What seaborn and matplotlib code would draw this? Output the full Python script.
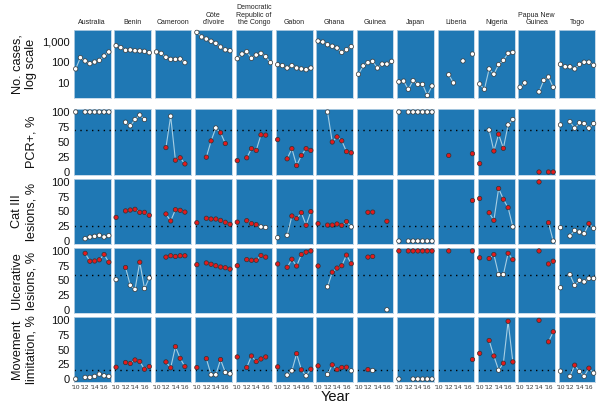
import numpy as np
import pandas as pd
import matplotlib
matplotlib.use("Agg")
import matplotlib.pyplot as plt
import matplotlib.ticker as mticker
import seaborn as sns

sns.set_theme(style="white")
plt.rcParams["font.family"] = ["Liberation Sans", "DejaVu Sans"]

N = np.nan
years = [2010, 2011, 2012, 2013, 2014, 2015, 2016, 2017]
countries = ["Australia", "Benin", "Cameroon", "Côte\nd'Ivoire",
             "Democratic\nRepublic of\nthe Congo", "Gabon", "Ghana", "Guinea",
             "Japan", "Liberia", "Nigeria", "Papua New\nGuinea", "Togo"]

cases = [
    [47, 166, 115, 85, 102, 123, 200, 316],
    [638, 513, 380, 395, 363, 355, 340, 290],
    [316, 270, 174, 138, 138, 144, 95, N],
    [2840, 1700, 1350, 1050, 830, 550, 400, 363],
    [148, 250, 325, 155, 224, 270, 186, 95],
    [76, 68, 52, 68, 52, 47, 43, 52],
    [1070, 965, 710, 600, 490, 300, 405, 575],
    [26, 66, 95, 110, 52, 81, 81, 110],
    [11, 12, 4.8, 12.6, 8.3, 8.3, 2.4, 6.9],
    [N, N, 24.5, 9.8, N, 115, N, 250],
    [8.7, 4.8, 47, 26, 76, 123, 270, 300],
    [6, 9.8, N, N, 3.6, 13, 19, 6],
    [79, 60, 60, 47, 79, 100, 100, 71],
]
pcr = [
    [100, N, 100, 100, 100, 100, 100, 100],
    [N, N, 83, 77, 87.5, 95, 87.5, N],
    [N, N, 40.7, 93, 19.7, 23.7, 13.5, N],
    [N, N, 24.7, 51.9, 73.4, 65.4, 47.5, N],
    [19, N, 23.7, 39, 36, 62, 61.5, N],
    [54, N, 22, 39, 10.7, 27.6, 39, 36],
    [N, N, 100, 50, 58.6, 52, 34, 32],
    [N, N, N, N, N, N, N, N],
    [100, N, 100, 100, 100, 100, 100, 100],
    [N, N, 27.6, N, N, N, N, 30.5],
    [14, N, 70, 35, 63, 39.5, 78.5, 87.5],
    [N, N, N, N, 0, N, 0, 0],
    [78.5, N, 84, 73, 82, 80.7, 73, 80.7],
]
cat3 = [
    [N, N, 4, 6.8, 8, 9.7, 6.8, 9.2],
    [40, N, 51, 52.5, 53.7, 48.6, 48.6, 43.6],
    [N, N, 45.8, 34, 53, 52, 49, N],
    [31, N, 38.5, 37.3, 37.3, 35, 31.7, 28.3],
    [32, N, 34.5, 29.5, 27.8, 24, 23, N],
    [5.7, N, 9.7, 42.4, 38, 48, 26.6, 49.8],
    [29.5, N, 27, 27, 28.8, 26.6, 32.9, 24],
    [N, N, 48.6, 49, N, N, 33.4, N],
    [0, N, 0, 0, 0, 0, 0, 0],
    [N, N, N, N, N, N, N, 69],
    [72, N, 48, 35, 89, 70.7, 56.6, 24],
    [N, N, N, N, 100, N, 31, 0],
    [22.7, N, 8.5, 18, 15.3, 12.5, 29.5, 21.5],
]
ulcer = [
    [N, N, 96, 82.6, 83, 85, 94, 81],
    [51.5, N, 72, 42, 35, 81, 36.4, 54.3],
    [N, N, 89.6, 91.9, 90.7, 91.9, 91.9, N],
    [76.8, N, 79.7, 77.5, 75, 72.8, 71.6, 69.3],
    [75, N, 85.4, 84.3, 84.3, 92.4, 89.6, N],
    [78, N, 72.3, 86, 74.5, 94, 98, 100],
    [74.5, N, 39.3, 64, 71, 75, 93, 78.5],
    [N, N, 89.6, 90.7, N, N, 0.5, N],
    [100, N, 100, 100, 100, 100, 100, 100],
    [N, N, 100, N, N, N, N, 100],
    [88.4, N, 87.2, 94, 60, 60, 96, 85.4],
    [N, N, N, N, 100, N, 78, 82.6],
    [37.8, N, 60, 41.8, 50.5, 47.7, 53.5, 53.5],
]
movement = [
    [0, N, 2.8, 2.8, 4.5, 8.4, 5.5, 4.5],
    [20, N, 28, 26.3, 32.3, 29.6, 16.7, 21.2],
    [N, N, 29, 19, 54.8, 35, 21.2, N],
    [19.5, N, 34.6, 7.2, 7.2, 33, 11.2, 8.9],
    [37.4, N, 19.6, 39, 29.6, 34, 37.4, N],
    [20.6, N, 6.7, 14, 43, 15.6, 5.5, 16.7],
    [22.3, N, 7.8, 24, 16, 19.6, 20, 14],
    [N, N, 16, 14.5, N, N, N, N],
    [0, N, N, 0, 0, 0, 0, 0],
    [N, N, N, N, N, N, N, 34.6],
    [43.5, N, 65.3, 39, 15, 26.8, 97.7, 29],
    [N, N, N, N, 99.3, N, 63, 80],
    [13.4, N, 4.5, 23.5, 12.9, 4.5, 18.4, 10],
]

row_labels = ["No. cases,\nlog scale", "PCR+, %", "Cat III\nlesions, %",
              "Ulcerative\nlesions, %", "Movement\nlimitation, %"]
thresholds = [None, 70, 25, 60, 15]
higher_is_bad = [None, False, True, True, True]
x_tick_years = [2010, 2012, 2014, 2016]
x_tick_labels = ["'10", "'12", "'14", "'16"]

indicators = [cases, pcr, cat3, ulcer, movement]

# Long-format table
records = []
for r, ind in enumerate(indicators):
    for c, vals in enumerate(ind):
        seg = 0
        prev = False
        for y, v in zip(years, vals):
            ok = not (v is None or (isinstance(v, float) and np.isnan(v)))
            if ok and not prev:
                seg += 1
            prev = ok
            if not ok:
                continue
            thr = thresholds[r]
            if thr is None:
                status = "ok"
            elif higher_is_bad[r]:
                status = "bad" if v > thr else "ok"
            else:
                status = "bad" if v < thr else "ok"
            records.append(dict(row=r, col=c, year=y, value=float(v),
                                seg=seg, status=status))
df = pd.DataFrame(records)

W, H = 600, 407
fig = plt.figure(figsize=(W / 100, H / 100), dpi=100)
fig.patch.set_facecolor("white")

row_px = [(30, 98), (109, 175), (179, 244), (248, 313), (317, 382)]
col_x0, col_step, col_w = 74, 40.4, 36.5
panel_color = "#1f78b4"
line_color = "#a6cee3"
palette = {"bad": "#e31a1c", "ok": "white"}

for r in range(5):
    top, bot = row_px[r]
    for c in range(len(countries)):
        x0 = col_x0 + c * col_step
        ax = fig.add_axes([x0 / W, 1 - bot / H, col_w / W, (bot - top) / H])
        ax.set_facecolor(panel_color)
        for s in ax.spines.values():
            s.set_color("#bcd3e6")
            s.set_linewidth(0.6)
        if r == 0:
            ax.set_yscale("log")
        sub = df[(df.row == r) & (df.col == c)]
        if thresholds[r] is not None:
            ax.axhline(thresholds[r], color="black", lw=1.0,
                       ls=(0, (1, 3.2)), zorder=1)
        if len(sub):
            sns.lineplot(data=sub, x="year", y="value", units="seg",
                         estimator=None, color=line_color, lw=0.8,
                         ax=ax, legend=False, zorder=2)
            sns.scatterplot(data=sub, x="year", y="value", hue="status",
                            palette=palette, s=10, edgecolor="#333333",
                            linewidth=0.5, legend=False, ax=ax, zorder=3,
                            clip_on=False)
        ax.set_xlim(2009.65, 2017.35)
        if r == 0:
            ax.set_ylim(1.8, 3700)
            ax.set_yticks([10, 100, 1000])
            ax.yaxis.set_minor_locator(mticker.NullLocator())
            ax.set_yticklabels(["10", "100", "1,000"])
        else:
            ax.set_ylim(-5, 105)
            ax.set_yticks([0, 25, 50, 75, 100])
        ax.set_xlabel("")
        ax.set_ylabel("")
        ax.set_xticks(x_tick_years)
        if r == 4:
            ax.set_xticklabels(x_tick_labels)
            ax.tick_params(axis="x", labelsize=4.6, colors="#333333",
                           length=1.5, width=0.5, pad=1)
        else:
            ax.tick_params(axis="x", labelbottom=False, length=0)
        if c == 0:
            ax.tick_params(axis="y", labelsize=8.0, labelcolor="#111111",
                           color="#333333", length=2, width=0.6, pad=1)
        else:
            ax.tick_params(axis="y", labelleft=False, length=0)
        ax.tick_params(which="minor", length=0)
        if r == 0:
            ax.text(0.5, 1.06, countries[c], transform=ax.transAxes,
                    ha="center", va="bottom", fontsize=5.0, color="#222222",
                    linespacing=1.05)

# Row labels
for r in range(5):
    top, bot = row_px[r]
    fig.text(37 / W, 1 - ((top + bot) / 2) / H, row_labels[r],
             rotation=90, ha="right", va="center", fontsize=9.2,
             linespacing=1.2, multialignment="center", color="#111111")

fig.text(335 / W, 1 - 397 / H, "Year", ha="center", va="center",
         fontsize=10.5, color="#111111")

fig.savefig("out.png", dpi=100, facecolor="white")
